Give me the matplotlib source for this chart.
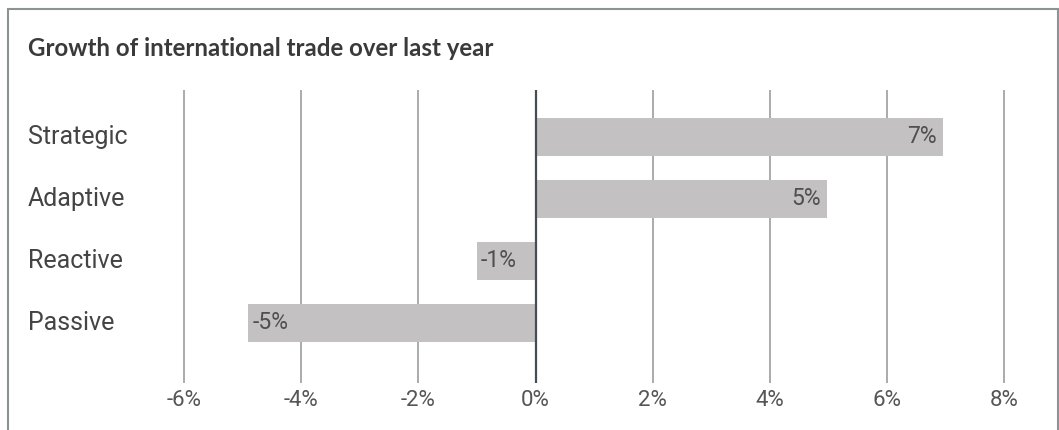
import matplotlib
matplotlib.use("Agg")
import matplotlib.pyplot as plt
from matplotlib.transforms import blended_transform_factory
from matplotlib.patches import Rectangle

# data
categories = ["Strategic", "Adaptive", "Reactive", "Passive"]
values = [6.95, 4.97, -1.0, -4.9]
value_labels = ["7%", "5%", "-1%", "-5%"]
xticks = [-6, -4, -2, 0, 2, 4, 6, 8]
xtick_labels = ["-6%", "-4%", "-2%", "0%", "2%", "4%", "6%", "8%"]
title = "Growth of international trade over last year"

W, H = 1059, 430
fig = plt.figure(figsize=(W / 100, H / 100), dpi=100)

# axes placed in pixel terms: x 140..1040, y 90..383 (from top)
ax_l, ax_r, ax_t, ax_b = 140, 1040, 90, 383
ax = fig.add_axes([ax_l / W, 1 - ax_b / H, (ax_r - ax_l) / W, (ax_b - ax_t) / H])

px_per_unit = 58.6
zero_px = 535.5
ax.set_xlim((ax_l - zero_px) / px_per_unit, (ax_r - zero_px) / px_per_unit)
ax.set_ylim(3.968, -0.758)

ypos = list(range(len(categories)))
ax.barh(ypos, values, height=0.613, color="#c3c1c2", zorder=2)

# gridlines
for t in xticks:
    ax.axvline(t, color="#474d50" if t == 0 else "#9a9ea1",
               lw=1.6 if t == 0 else 1.2, zorder=3 if t == 0 else 1)

ax.set_xticks(xticks)
ax.set_xticklabels(xtick_labels, family="Roboto", fontsize=16, color="#555555")
ax.tick_params(axis="x", length=0, pad=5)
ax.set_yticks([])
for s in ax.spines.values():
    s.set_visible(False)

# bar value labels
for y, v, lab in zip(ypos, values, value_labels):
    if v >= 0:
        ax.annotate(lab, (v, y), xytext=(-4, 0), textcoords="offset points",
                    ha="right", va="center", fontsize=16.5, color="#4f4f4f",
                    family="Roboto", zorder=4)
    else:
        ax.annotate(lab, (v, y), xytext=(3, 0), textcoords="offset points",
                    ha="left", va="center", fontsize=16.5, color="#4f4f4f",
                    family="Roboto", zorder=4)

# category labels at the left
tr = blended_transform_factory(fig.transFigure, ax.transData)
for y, c in zip(ypos, categories):
    ax.text(28 / W, y, c, transform=tr, ha="left", va="center", fontsize=18,
            color="#444444", family="Roboto")

fig.text(28 / W, 1 - 49 / H, title, ha="left", va="center", fontsize=17.3,
         fontweight="bold", color="#3a3a3a", family="Lato")

# outer frame
fig.patches.append(Rectangle((8 / W, -0.05), 1050 / W, 1.05 - 9 / H,
                             transform=fig.transFigure, fill=False,
                             edgecolor="#8d9295", lw=1.5))

fig.savefig("out.png", dpi=100)
